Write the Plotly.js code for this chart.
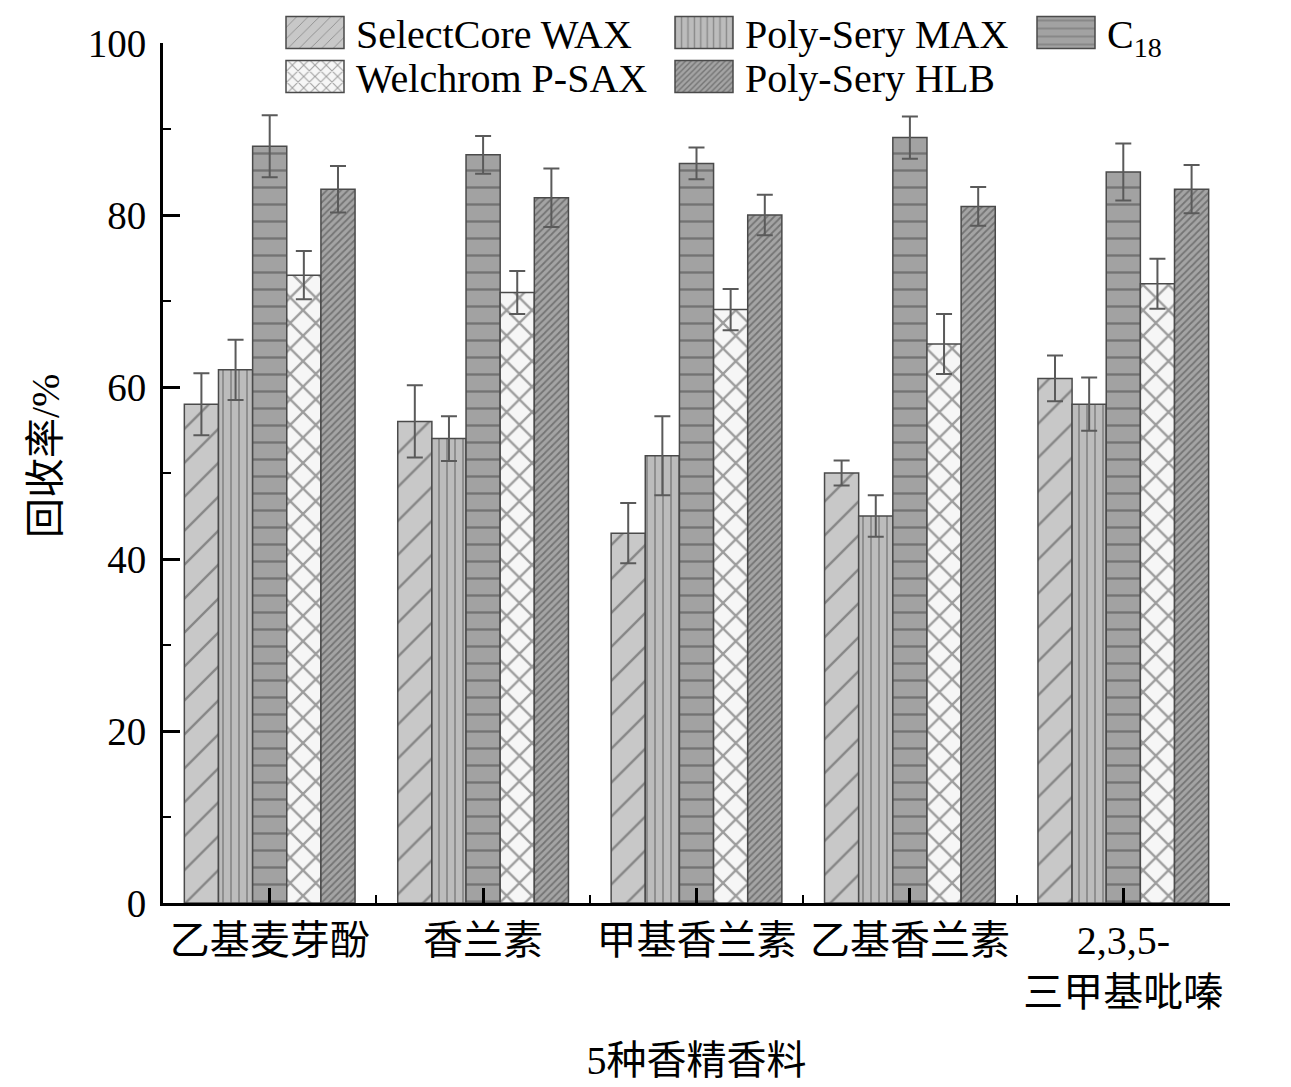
<!DOCTYPE html>
<html>
<head>
<meta charset="utf-8">
<script src="https://cdn.plot.ly/plotly-3.0.1.min.js"></script>
<style>html,body{margin:0;padding:0;background:#fff;}#chart{width:1291px;height:1087px;}</style>
</head>
<body>
<div id="chart"></div>
<script>
const categories = ['乙基麦芽酚', '香兰素', '甲基香兰素', '乙基香兰素', '2,3,5-<br>三甲基吡嗪'];
const seriesNames = ['SelectCore WAX', 'Poly-Sery MAX', 'C<sub>18</sub>', 'Welchrom P-SAX', 'Poly-Sery HLB'];
const waxValues = [58, 56, 43, 50, 61];
const waxErr = [3.6, 4.2, 3.5, 1.45, 2.65];
const maxValues = [62, 54, 52, 45, 58];
const maxErr = [3.5, 2.6, 4.6, 2.4, 3.1];
const c18Values = [88, 87, 86, 89, 85];
const c18Err = [3.6, 2.2, 1.85, 2.45, 3.3];
const psaxValues = [73, 71, 69, 65, 72];
const psaxErr = [2.8, 2.5, 2.4, 3.5, 2.9];
const hlbValues = [83, 82, 80, 81, 83];
const hlbErr = [2.7, 3.4, 2.35, 2.25, 2.8];
const yTicks = [0, 20, 40, 60, 80, 100];

const xIdx = categories.map((c, i) => i);
const FONT = 'Liberation Serif, Times New Roman, Noto Sans CJK SC, serif';

const styles = [
  {shape: '/', bg: '#c8c8c8', fg: '#444444', size: 24, sol: 0.1, legend: 'legend'},
  {shape: '|', bg: '#bcbcbc', fg: '#555555', size: 8, sol: 0.22, legend: 'legend'},
  {shape: '-', bg: '#a2a2a2', fg: '#444444', size: 17, sol: 0.14, legend: 'legend3'},
  {shape: 'x', bg: '#f6f6f6', fg: '#444444', size: 18, sol: 0.24, legend: 'legend2'},
  {shape: '/', bg: '#a4a4a4', fg: '#444444', size: 5, sol: 0.35, legend: 'legend2'}
];
const values = [waxValues, maxValues, c18Values, psaxValues, hlbValues];
const errs = [waxErr, maxErr, c18Err, psaxErr, hlbErr];

const traces = values.map((v, k) => ({
  type: 'bar',
  name: seriesNames[k],
  x: xIdx,
  y: v,
  legend: styles[k].legend,
  marker: {
    color: styles[k].bg,
    line: {color: '#4a4a4a', width: 1.5},
    pattern: {shape: styles[k].shape, bgcolor: styles[k].bg, fgcolor: styles[k].fg, size: styles[k].size, solidity: styles[k].sol, fillmode: 'overlay'}
  },
  error_y: {type: 'data', array: errs[k], visible: true, color: '#5a5a5a', thickness: 2, width: 8}
}));

const legendCommon = {
  orientation: 'h', xref: 'container', yref: 'container', xanchor: 'left', yanchor: 'top',
  bgcolor: 'rgba(0,0,0,0)', borderwidth: 0, itemwidth: 72, entrywidthmode: 'pixels',
  font: {family: FONT, size: 40, color: '#000'}, traceorder: 'normal', itemclick: false, itemdoubleclick: false
};

const layout = {
  width: 1291, height: 1087,
  margin: {l: 163, r: 61, t: 43, b: 184, autoexpand: false},
  paper_bgcolor: '#fff', plot_bgcolor: '#fff',
  barmode: 'group', bargap: 0.2, bargroupgap: 0,
  font: {family: FONT, size: 40, color: '#000'},
  xaxis: {
    range: [-0.5, 4.5], tickvals: xIdx, ticktext: categories,
    showline: true, linecolor: '#000', linewidth: 3, mirror: false,
    ticks: 'inside', ticklen: 15, tickwidth: 3, tickcolor: '#000',
    minor: {ticks: 'inside', ticklen: 8, tickwidth: 2, tickcolor: '#000', tickvals: [0.5, 1.5, 2.5, 3.5, 4.5]},
    showgrid: false, zeroline: false,
    tickfont: {family: FONT, size: 40, color: '#000'},
    title: {text: '5种香精香料', font: {family: FONT, size: 40, color: '#000'}, standoff: 32}
  },
  yaxis: {
    range: [0, 100], tickvals: yTicks, ticktext: yTicks.map(String),
    showline: true, linecolor: '#000', linewidth: 3,
    ticks: 'inside', ticklen: 17, tickwidth: 3, tickcolor: '#000',
    minor: {ticks: 'inside', ticklen: 8, tickwidth: 2, tickcolor: '#000', dtick: 10},
    showgrid: false, zeroline: false,
    tickfont: {family: FONT, size: 39, color: '#000'},
    ticklabelstandoff: 6
  },
  annotations: [{
    text: '回收率/%', textangle: -90, xref: 'paper', yref: 'paper',
    x: (45 - 163) / 1067, y: (903 - 456) / 860, xanchor: 'center', yanchor: 'middle',
    showarrow: false, font: {family: FONT, size: 40, color: '#000'}
  }],
  legend: Object.assign({}, legendCommon, {x: 274 / 1291, y: 1 - 0 / 1087, entrywidth: 302}),
  legend2: Object.assign({}, legendCommon, {x: 274 / 1291, y: 1 - 44 / 1087, entrywidth: 302}),
  legend3: Object.assign({}, legendCommon, {x: 1025 / 1291, y: 1 - 0 / 1087, entrywidth: 80}),
  showlegend: true
};

Plotly.newPlot('chart', traces, layout, {displayModeBar: false, staticPlot: true}).then(() => {
  document.querySelectorAll('.legendpoints path').forEach(p => {
    p.setAttribute('d', 'M29,16H-29V-16H29Z');
  });
});
</script>
</body>
</html>
